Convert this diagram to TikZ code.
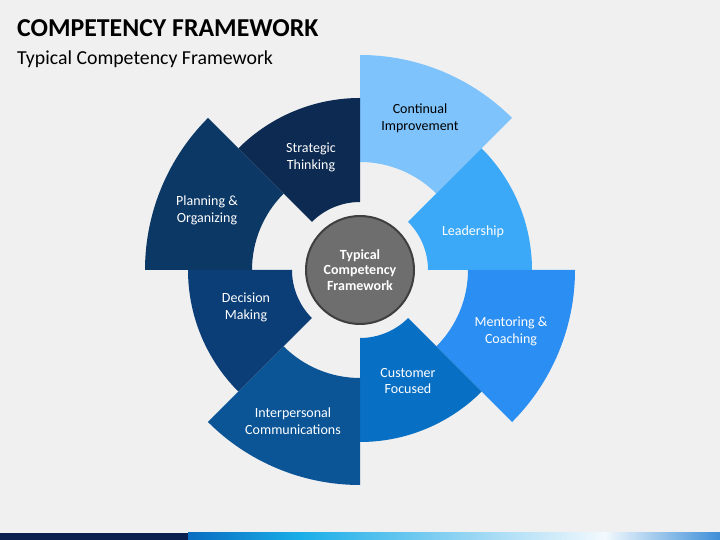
\documentclass[tikz,border=0pt]{standalone}
\usepackage{fontspec}
\setmainfont{Carlito}
\usetikzlibrary{calc}
\definecolor{bg}{HTML}{F0F0F0}
\definecolor{cA}{HTML}{7EC3FB}
\definecolor{cB}{HTML}{3CA9F8}
\definecolor{cC}{HTML}{2B8EF2}
\definecolor{cD}{HTML}{0870C4}
\definecolor{cE}{HTML}{0B5597}
\definecolor{cF}{HTML}{0B3E77}
\definecolor{cG}{HTML}{0C3866}
\definecolor{cH}{HTML}{0C2A52}
\definecolor{hubfill}{HTML}{6E6E6E}
\definecolor{hubline}{HTML}{3F3F3F}
\definecolor{navy}{HTML}{0B1F4F}
\definecolor{barblue}{HTML}{0A6CC0}
\definecolor{barcyan}{HTML}{19AEE8}
\definecolor{barlight}{HTML}{9ED8F4}
\definecolor{barwhite}{HTML}{F2F9FD}
\definecolor{barend}{HTML}{3C8ED8}
\begin{document}
\begin{tikzpicture}[x=1pt,y=1pt,
  lbl/.style={align=center,font=\fontsize{14}{16.8}\selectfont,text=white,inner sep=0pt},
  lbldark/.style={lbl,text=black}]
\useasboundingbox (0,0) rectangle (720,540);
\fill[bg] (0,0) rectangle (720,540);
% bottom bar
\fill[navy] (0,0) rectangle (188,7);
\shade[left color=barblue,right color=barcyan] (188,0) rectangle (300,7);
\shade[left color=barcyan,right color=barlight] (299.5,0) rectangle (480,7);
\shade[left color=barlight,right color=barwhite] (479.5,0) rectangle (605,7);
\shade[left color=barwhite,right color=barend] (604.5,0) rectangle (720,7);
% segments
\begin{scope}[shift={(360,270)}]
  \newcommand{\seg}[5]{\fill[#5] (#1:#4) arc[start angle=#1,end angle=#2,radius=#4] -- (#2:#3) arc[start angle=#2,end angle=#1,radius=#3] -- cycle;}
  \seg{45}{90}{108}{215}{cA}
  \seg{0}{45}{68}{172}{cB}
  \seg{-45}{0}{108}{215}{cC}
  \seg{-90}{-45}{68}{172}{cD}
  \seg{-135}{-90}{108}{215}{cE}
  \seg{-180}{-135}{68}{172}{cF}
  \seg{135}{180}{108}{215}{cG}
  \seg{90}{135}{68}{172}{cH}
\end{scope}
% hub
\node[circle,minimum size=108pt,fill=hubfill,draw=hubline,line width=2pt,inner sep=0pt,
  align=center,text=white,font=\bfseries\fontsize{14}{15.5}\selectfont] (hub) at (360,270)
  {Typical\\Competency\\Framework};
% labels
\node[lbldark] (ci) at (420,422) {Continual\\Improvement};
\node[lbl] (st) at (311,383) {Strategic\\Thinking};
\node[lbl] (ld) at (473,308) {Leadership};
\node[lbl] (po) at (207,330) {Planning \&\\Organizing};
\node[lbl] (dm) at (246,233) {Decision\\Making};
\node[lbl] (mc) at (511,209) {Mentoring \&\\Coaching};
\node[lbl] (cf) at (408,159) {Customer\\Focused};
\node[lbl] (ic) at (293,119) {Interpersonal\\Communications};
% titles
\node[anchor=base west,inner sep=0pt,font=\bfseries\fontsize{25.8}{30}\selectfont] (title) at (17,503) {COMPETENCY FRAMEWORK};
\node[anchor=base west,inner sep=0pt,font=\fontsize{19.8}{23}\selectfont] (sub) at (17,475) {Typical Competency Framework};
\end{tikzpicture}
\end{document}
